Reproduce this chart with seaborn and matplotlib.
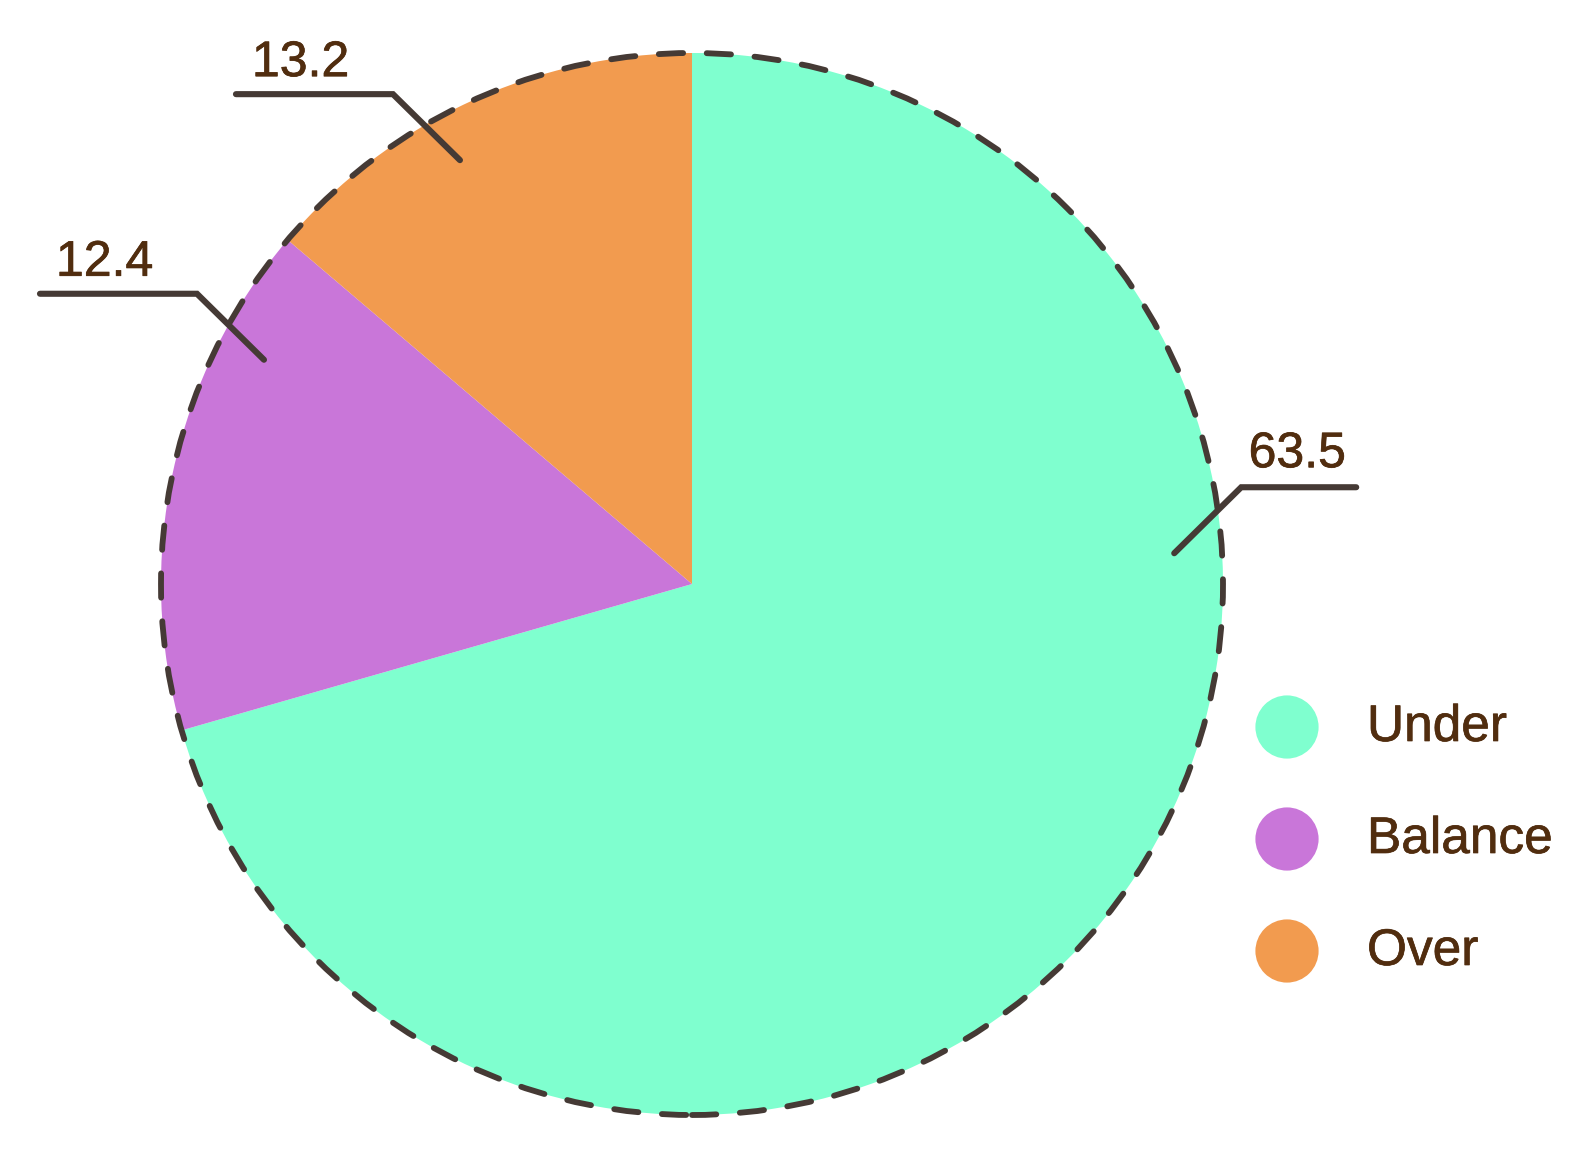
import numpy as np
import matplotlib
matplotlib.use("Agg")
import matplotlib.pyplot as plt
from matplotlib.patches import Circle
import matplotlib.patheffects as pe
import seaborn as sns

# ---- data ----
categories = ["Under", "Balance", "Over"]
slice_values = [63.5, 14.1, 12.4]          # slice sizes
label_values = ["63.5", "12.4", "13.2"]    # numbers printed on the leader lines
colors = ["#7fffcf", "#c976d9", "#f29b4f"]

# ---- style / layout ----
sns.set_theme(style="white")
plt.rcParams["font.family"] = ["Liberation Sans", "DejaVu Sans"]
plt.rcParams["lines.scale_dashes"] = False

W, H = 1589, 1160
fig = plt.figure(figsize=(W / 100, H / 100), dpi=100)
ax = fig.add_axes([0, 0, 1, 1])

cx, cy, R = 692, H - 584, 531
text_color = "#512d0f"
line_color = "#453a35"
thick = [pe.withStroke(linewidth=0.5, foreground=text_color)]

ax.pie(slice_values, colors=colors, startangle=90, counterclock=False,
       center=(cx, cy), radius=R, wedgeprops=dict(linewidth=0))

# dashed outline
ax.add_patch(Circle((cx, cy), R, fill=False, edgecolor=line_color, lw=4.2,
                    linestyle=(0, (17.5, 17.0)), capstyle="round", zorder=3))

# leader lines (anchor angle in degrees, side, horizontal length)
leader_angle = [3.65, 152.35, 118.7]
leader_side = [1, -1, -1]
leader_hlen = [115, 157, 157]
for lab, ang, side, hl in zip(label_values, leader_angle, leader_side, leader_hlen):
    a = np.deg2rad(ang)
    sx, sy = cx + 0.91 * R * np.cos(a), cy + 0.91 * R * np.sin(a)
    ex, ey = sx + side * 67, sy + 66
    fx, fy = ex + side * hl, ey
    ax.plot([sx, ex, fx], [sy, ey, fy], color=line_color, lw=4.4,
            solid_capstyle="round", solid_joinstyle="miter", zorder=4)
    if side < 0:
        ax.text(fx + 16, fy + 18, lab, ha="left", va="baseline",
                fontsize=36, color=text_color, path_effects=thick)
    else:
        ax.text(fx - 10, fy + 20, lab, ha="right", va="baseline",
                fontsize=36, color=text_color, path_effects=thick)

# legend
leg_x, leg_y0, leg_pitch = 1287, H - 727, 112
for i, (cat, col) in enumerate(zip(categories, colors)):
    y = leg_y0 - i * leg_pitch
    ax.scatter([leg_x], [y], s=(45.5) ** 2, color=col, edgecolors="none", zorder=5)
    ax.text(leg_x + 80, y - 14, cat, ha="left", va="baseline",
            fontsize=37, color=text_color, path_effects=thick)

ax.set_xlim(0, W)
ax.set_ylim(0, H)
ax.set_aspect("equal")
ax.axis("off")
fig.savefig("out.png", dpi=100, facecolor="white")
